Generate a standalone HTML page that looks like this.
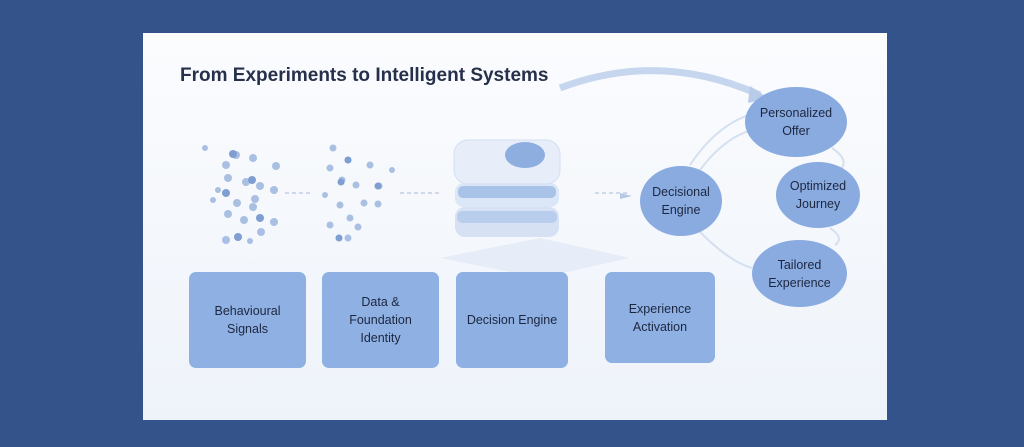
<!DOCTYPE html>
<html><head><style>
html,body{margin:0;padding:0;}
body{width:1024px;height:447px;background:#34538a;position:relative;overflow:hidden;font-family:"Liberation Sans",sans-serif;}
.card{position:absolute;left:143px;top:33px;width:744px;height:387px;background:linear-gradient(180deg,#fbfcfe,#eef3fa);}
.t{position:absolute;left:180px;top:65px;font-size:19px;font-weight:bold;color:#26304a;}
.box{position:absolute;background:#8eb0e2;border-radius:7px;display:flex;align-items:center;justify-content:center;text-align:center;font-size:12.5px;line-height:18px;color:#1d2740;}
.el{position:absolute;background:#8aabe0;border-radius:50%;display:flex;align-items:center;justify-content:center;text-align:center;font-size:12.5px;line-height:18px;color:#1d2740;}
</style></head><body>
<div class="card"></div>
<svg width="1024" height="447" style="position:absolute;left:0;top:0">
<g fill="#a9c0e3">
<circle cx="236" cy="155" r="4"/><circle cx="253" cy="158" r="4"/><circle cx="226" cy="165" r="4"/><circle cx="276" cy="166" r="4"/><circle cx="228" cy="178" r="4"/><circle cx="246" cy="182" r="4"/><circle cx="260" cy="186" r="4"/><circle cx="274" cy="190" r="4"/><circle cx="237" cy="203" r="4"/><circle cx="255" cy="199" r="4"/><circle cx="228" cy="214" r="4"/><circle cx="253" cy="207" r="4"/><circle cx="244" cy="220" r="4"/><circle cx="274" cy="222" r="4"/><circle cx="261" cy="232" r="4"/><circle cx="226" cy="240" r="4"/><circle cx="250" cy="241" r="3"/><circle cx="218" cy="190" r="3"/><circle cx="205" cy="148" r="3"/><circle cx="213" cy="200" r="3"/>
<circle cx="333" cy="148" r="3.5"/><circle cx="348" cy="160" r="3.5"/><circle cx="330" cy="168" r="3.5"/><circle cx="370" cy="165" r="3.5"/><circle cx="342" cy="180" r="3.5"/><circle cx="379" cy="186" r="3.5"/><circle cx="356" cy="185" r="3.5"/><circle cx="340" cy="205" r="3.5"/><circle cx="364" cy="203" r="3.5"/><circle cx="378" cy="204" r="3.5"/><circle cx="350" cy="218" r="3.5"/><circle cx="330" cy="225" r="3.5"/><circle cx="358" cy="227" r="3.5"/><circle cx="348" cy="238" r="3.5"/><circle cx="325" cy="195" r="3"/><circle cx="392" cy="170" r="3"/>
</g>
<g fill="#7f9fd2"><circle cx="233" cy="154" r="4"/><circle cx="252" cy="180" r="4"/><circle cx="226" cy="193" r="4"/><circle cx="260" cy="218" r="4"/><circle cx="238" cy="237" r="4"/><circle cx="348" cy="160" r="3.5"/><circle cx="341" cy="182" r="3.5"/><circle cx="378" cy="186" r="3.5"/><circle cx="339" cy="238" r="3.5"/></g>
<g stroke="#b7c8e3" stroke-width="1.2" stroke-dasharray="4 3" fill="none">
<line x1="285" y1="193" x2="310" y2="193"/><line x1="400" y1="193" x2="440" y2="193"/><line x1="595" y1="193" x2="630" y2="193"/>
</g>
<path d="M620 193 L632 196 L620 199Z" fill="#b7c8e3"/>
<path d="M440 258 L540 238 L630 258 L540 278Z" fill="#e6edf8"/>
<rect x="455" y="207" width="104" height="30" rx="10" fill="#d6e2f4"/>
<rect x="457" y="211" width="100" height="12" rx="5" fill="#b9cdec"/>
<rect x="455" y="183" width="104" height="24" rx="9" fill="#dbe6f6"/>
<rect x="458" y="186" width="98" height="12" rx="5" fill="#a9c2e8"/>
<rect x="454" y="140" width="106" height="44" rx="14" fill="#e8eef9" stroke="#d2dff2"/>
<ellipse cx="525" cy="155" rx="20" ry="13" fill="#8eaee0"/>
<path d="M560 88 Q660 50 760 95" stroke="#c6d6ee" stroke-width="7" fill="none"/>
<path d="M750 86 L768 98 L748 103Z" fill="#b8cce9"/>
<g stroke="#d5e0f0" stroke-width="2" fill="none">
<path d="M690 165 Q720 120 760 112"/><path d="M700 170 Q730 130 765 128"/>
<path d="M700 232 Q730 262 752 268"/><path d="M832 148 Q850 160 840 170"/><path d="M830 228 Q845 238 835 245"/>
</g>
</svg>
<div class="t">From Experiments to Intelligent Systems</div>
<div class="box" style="left:189px;top:272px;width:117px;height:96px">Behavioural<br>Signals</div>
<div class="box" style="left:322px;top:272px;width:117px;height:96px">Data &amp;<br>Foundation<br>Identity</div>
<div class="box" style="left:456px;top:272px;width:112px;height:96px">Decision Engine</div>
<div class="box" style="left:605px;top:272px;width:110px;height:91px">Experience<br>Activation</div>
<div class="el" style="left:745px;top:87px;width:102px;height:70px">Personalized<br>Offer</div>
<div class="el" style="left:776px;top:162px;width:84px;height:66px">Optimized<br>Journey</div>
<div class="el" style="left:640px;top:166px;width:82px;height:70px">Decisional<br>Engine</div>
<div class="el" style="left:752px;top:240px;width:95px;height:67px">Tailored<br>Experience</div>
</body></html>
